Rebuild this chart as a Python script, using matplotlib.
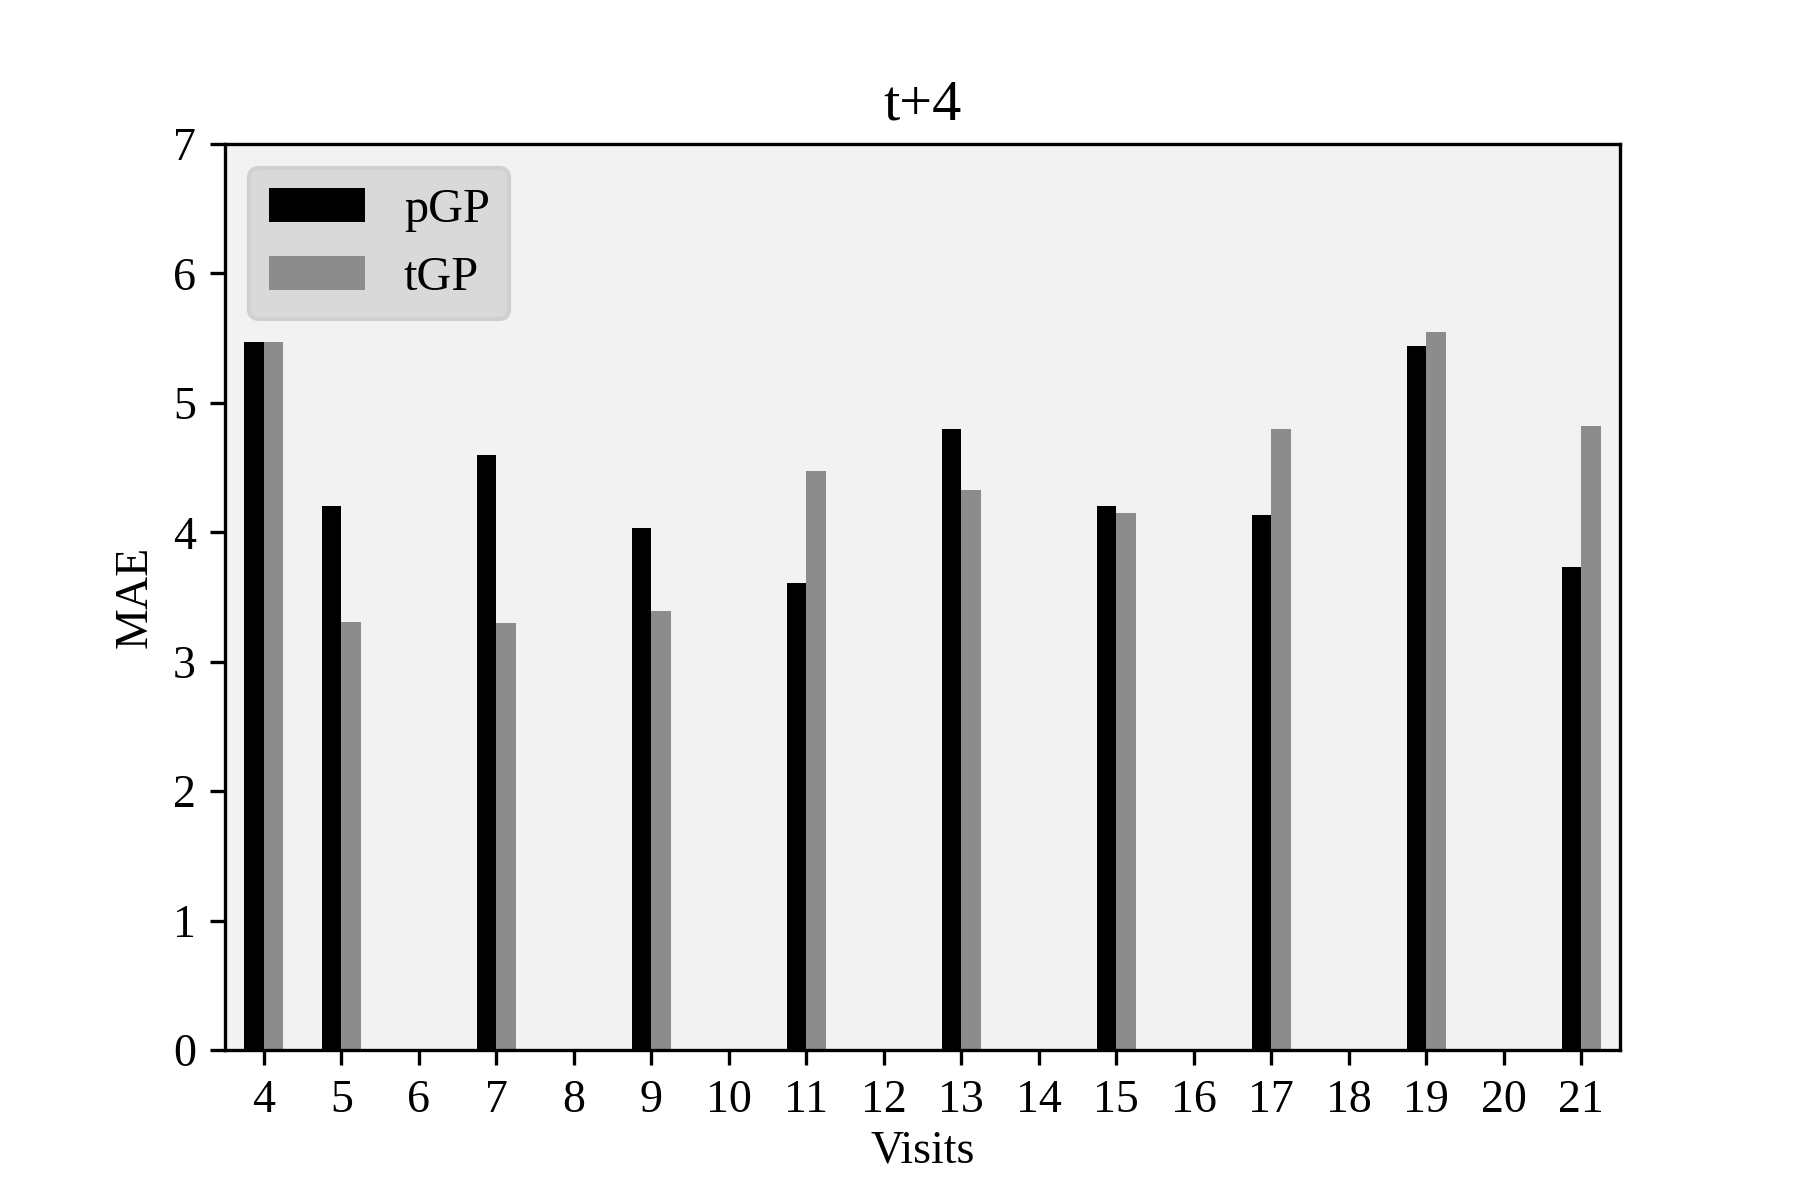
import numpy as np
import matplotlib
matplotlib.use("Agg")
import matplotlib.pyplot as plt

plt.rcParams['font.family'] = ['Liberation Serif', 'DejaVu Serif']
plt.rcParams['font.size'] = 11

visits = list(range(4, 22))
pgp = [5.47, 4.20, 0, 4.60, 0, 4.03, 0, 3.61, 0, 4.80, 0, 4.20, 0, 4.13, 0, 5.44, 0, 3.73]
tgp = [5.47, 3.31, 0, 3.30, 0, 3.39, 0, 4.47, 0, 4.33, 0, 4.15, 0, 4.80, 0, 5.55, 0, 4.82]

x = np.array(visits)
w = 0.25

fig = plt.figure(figsize=(6, 4), dpi=300)
ax = fig.add_axes([0.125, 0.125, 0.775, 0.755])
ax.set_facecolor('#f2f2f2')

ax.bar(x - w / 2, pgp, width=w, color='black', label='pGP')
ax.bar(x + w / 2, tgp, width=w, color='#8c8c8c', label='tGP')

ax.set_xticks(x)
ax.set_xlim(3.5, 21.5)
ax.set_ylim(0, 7)
ax.set_xlabel('Visits', labelpad=2)
ax.set_ylabel('MAE')
ax.set_title('t+4', fontsize=14)

leg = ax.legend(loc='upper left', fancybox=True, framealpha=1, fontsize=11.6)
leg.get_frame().set_facecolor('#d9d9d9')
leg.get_frame().set_edgecolor('#d0d0d0')

fig.savefig('out.png', dpi=300)
